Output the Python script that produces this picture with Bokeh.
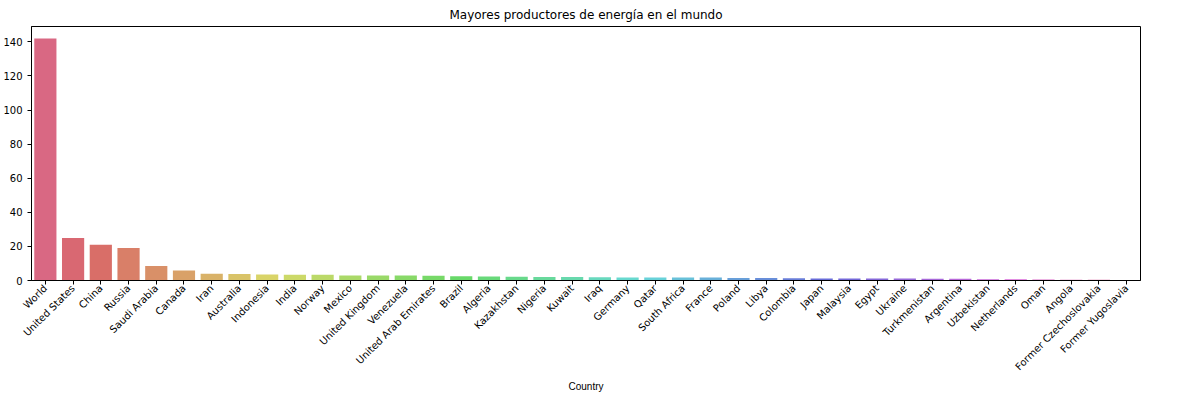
import colorsys
from math import pi
from bokeh.plotting import figure
from bokeh.models import ColumnDataSource, FactorRange
from bokeh.embed import file_html
from bokeh.resources import INLINE

countries = ["World", "United States", "China", "Russia", "Saudi Arabia", "Canada", "Iran",
             "Australia", "Indonesia", "India", "Norway", "Mexico", "United Kingdom", "Venezuela",
             "United Arab Emirates", "Brazil", "Algeria", "Kazakhstan", "Nigeria", "Kuwait", "Iraq",
             "Germany", "Qatar", "South Africa", "France", "Poland", "Libya", "Colombia", "Japan",
             "Malaysia", "Egypt", "Ukraine", "Turkmenistan", "Argentina", "Uzbekistan",
             "Netherlands", "Oman", "Angola", "Former Czechoslovakia", "Former Yugoslavia"]
production = [142, 25, 21, 19, 8.5, 5.8, 4.0, 3.8, 3.5, 3.4, 3.3, 3.0, 2.9, 2.9, 2.8, 2.5,
              2.4, 2.2, 2.0, 2.0, 1.9, 1.8, 1.8, 1.8, 1.7, 1.5, 1.4, 1.3, 1.2, 1.2, 1.1, 1.1,
              1.0, 1.0, 0.8, 0.7, 0.6, 0.5, 0.4, 0.3]

# husl-like palette, desaturated
colors = []
n = len(countries)
for i in range(n):
    h = (0.96 + i / n) % 1.0
    r, g, b = colorsys.hls_to_rgb(h, 0.63, 0.6)
    colors.append("#%02x%02x%02x" % (int(r * 255), int(g * 255), int(b * 255)))

src = ColumnDataSource(dict(x=countries, y=production, c=colors))

p = figure(x_range=FactorRange(*countries, range_padding=0), y_range=(0, 149),
           width=1162, height=395, output_backend="svg", toolbar_location=None,
           title="Mayores productores de energía en el mundo",
           min_border_left=26, min_border_right=22, min_border_top=4, min_border_bottom=0)
p.vbar(x="x", top="y", width=0.8, fill_color="c", line_color=None, source=src)

p.title.align = "center"
p.title.text_font_style = "normal"
p.title.text_font = "DejaVu Sans"
p.title.text_font_size = "12px"
p.title.text_color = "black"
p.xgrid.visible = False
p.ygrid.visible = False
p.outline_line_color = "black"
p.outline_line_alpha = 1
p.xaxis.major_label_orientation = pi / 4
p.xaxis.axis_label = "Country"
p.xaxis.axis_label_text_font_style = "normal"
p.xaxis.axis_label_text_font_size = "10px"
p.xaxis.axis_label_text_color = "black"
p.xaxis.axis_label_standoff = 2
p.xaxis.major_label_standoff = 2
p.yaxis.ticker = [0, 20, 40, 60, 80, 100, 120, 140]
for ax in (p.xaxis, p.yaxis):
    ax.major_label_text_font_size = "10px"
    ax.major_label_text_font = "DejaVu Sans"
    ax.major_label_text_color = "black"
    ax.minor_tick_line_color = None
    ax.major_tick_in = 0
    ax.major_tick_out = 4
    ax.axis_line_color = "black"

open("out.html", "w").write(file_html(p, INLINE))
